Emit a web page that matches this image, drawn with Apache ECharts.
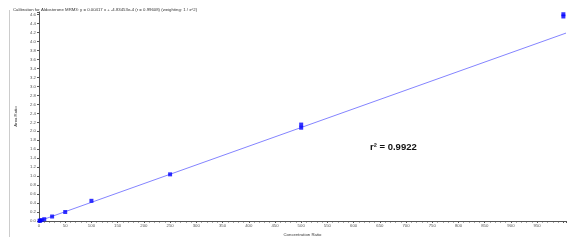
<!DOCTYPE html>
<html><head><meta charset="utf-8">
<script src="https://cdn.jsdelivr.net/npm/echarts@6/dist/echarts.min.js"></script>
<style>html,body{margin:0;padding:0;background:#fff}#c{width:577px;height:251px}</style>
</head><body><div id="c"></div>
<script>
const titleText = "Calibration for Aldosterone MRM3: y = 0.00417 x + -4.83453e-4 (r = 0.99608) (weighting: 1 / x^2)";
const xName = "Concentration Ratio";
const yName = "Area Ratio";
const r2Text = "r\u00B2 = 0.9922";
const concentrations = [1, 2, 5, 10, 25, 50, 100, 250, 500, 500, 1000, 1000];
const areaRatios = [0.004, 0.008, 0.02, 0.04, 0.10, 0.20, 0.45, 1.04, 2.08, 2.15, 4.56, 4.61];
const fitX = [0, 1005];
const fitY = [-0.0005, 4.19];

const chart = echarts.init(document.getElementById('c'), null, {renderer: 'canvas'});
const axisCol = '#555';
const small = 4.3;
chart.setOption({
  animation: false,
  grid: {left: 39, right: 11, top: 12, bottom: 30},
  title: {text: titleText, left: 8, top: 3, textStyle: {fontSize: small, fontWeight: 'normal', color: '#333', fontFamily: 'Liberation Sans'}},
  xAxis: {
    type: 'value', min: 0, max: 1005, interval: 50,
    name: xName, nameLocation: 'middle', nameGap: 10,
    nameTextStyle: {fontSize: small, color: '#333', fontFamily: 'Liberation Sans'},
    axisLine: {lineStyle: {color: axisCol, width: 1}},
    axisTick: {show: true, length: 2, lineStyle: {color: axisCol}},
    minorTick: {show: true, splitNumber: 5, length: 1.5, lineStyle: {color: axisCol}},
    axisLabel: {fontSize: small, color: '#555', margin: 3, fontFamily: 'Liberation Sans',
      formatter: v => (v % 50 === 0 && v <= 950) ? String(v) : ''},
    splitLine: {show: false}
  },
  yAxis: {
    type: 'value', min: 0, max: 4.66, interval: 0.2,
    name: yName, nameLocation: 'middle', nameGap: 21, nameRotate: 90,
    nameTextStyle: {fontSize: small, color: '#333', fontFamily: 'Liberation Sans'},
    axisLine: {show: true, lineStyle: {color: axisCol, width: 1}},
    axisTick: {show: true, length: 2, lineStyle: {color: axisCol}},
    axisLabel: {fontSize: small, color: '#555', margin: 3, fontFamily: 'Liberation Sans',
      formatter: v => { const k = Math.round(v * 10); return (Math.abs(v * 10 - k) < 1e-6 && k <= 46) ? (k / 10).toFixed(1) : ''; }},
    splitLine: {show: false}
  },
  series: [
    {type: 'line', data: fitX.map((x, i) => [x, fitY[i]]), symbol: 'none',
      lineStyle: {color: '#8484ff', width: 1}, silent: true, clip: true, z: 1},
    {type: 'scatter', data: concentrations.map((x, i) => [x, areaRatios[i]]),
      symbol: 'rect', symbolSize: 4, itemStyle: {color: '#0000ff'}, clip: false, z: 2}
  ],
  graphic: [
    {type: 'line', shape: {x1: 9.5, y1: 10, x2: 9.5, y2: 237}, style: {stroke: '#ccc', lineWidth: 1}},
    {type: 'text', left: 370, top: 142, style: {text: r2Text, fontSize: 9.5, fontWeight: 'bold', fill: '#111', fontFamily: 'Liberation Sans'}}
  ]
});
</script></body></html>
